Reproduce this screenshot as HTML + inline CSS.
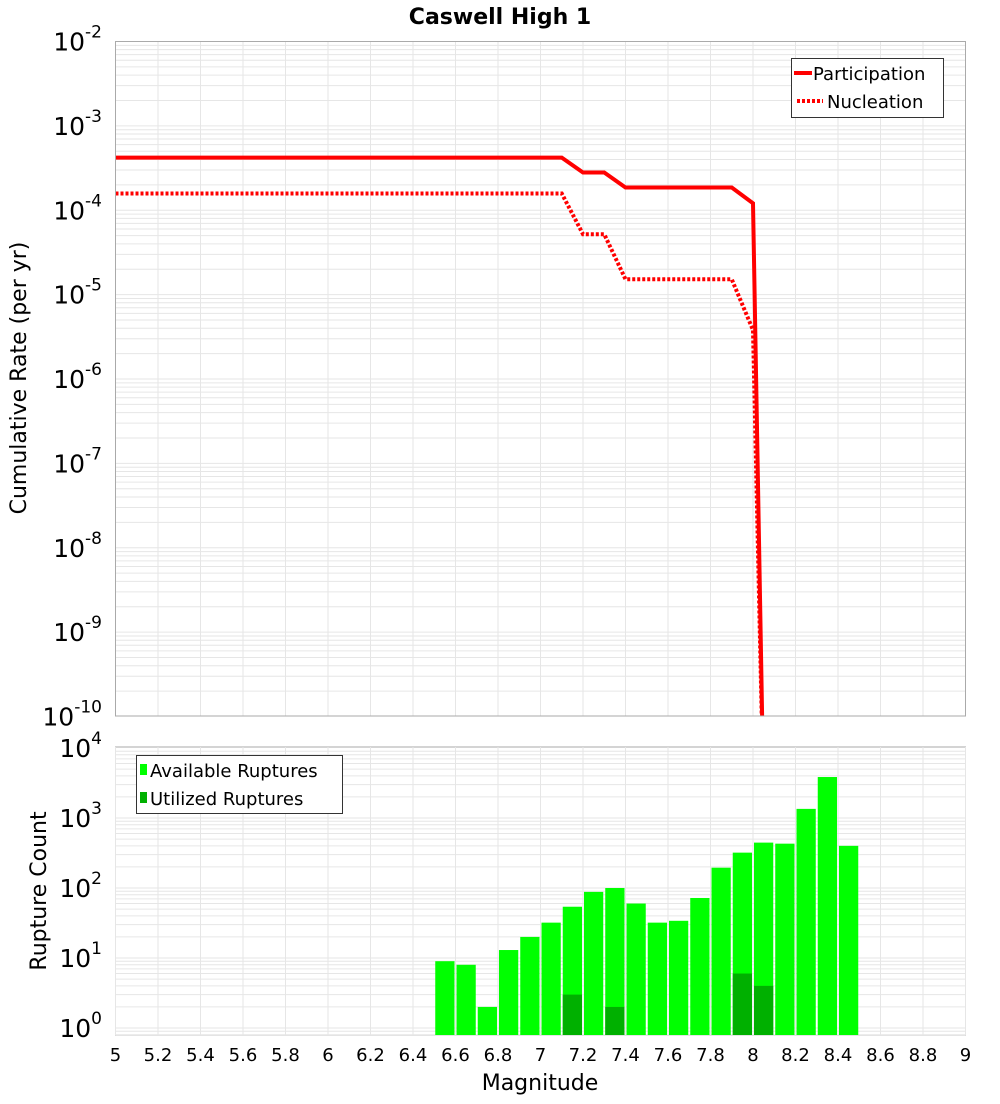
<!DOCTYPE html>
<html><head><meta charset="utf-8"><style>
body{margin:0;background:#fff;font-family:"DejaVu Sans","Liberation Sans",sans-serif;}
svg text{font-family:"DejaVu Sans","Liberation Sans",sans-serif;}
</style></head><body>
<svg id="c" width="1000" height="1100" xmlns="http://www.w3.org/2000/svg">
<text x="500" y="24" text-anchor="middle" font-size="22" font-weight="bold">Caswell High 1</text>
<g id="topg"></g>
<g id="botg"></g>
<text transform="translate(26,378) rotate(-90)" text-anchor="middle" font-size="22">Cumulative Rate (per yr)</text>
<text transform="translate(46,891) rotate(-90)" text-anchor="middle" font-size="22">Rupture Count</text>
<text x="540" y="1090" text-anchor="middle" font-size="22">Magnitude</text>
<g>
<rect x="791.5" y="58.5" width="152" height="59" fill="#fff" stroke="#333"/>
<line x1="794" y1="73" x2="812" y2="73" stroke="#f00" stroke-width="4"/>
<text x="813" y="80" font-size="18">Participation</text>
<line x1="797" y1="101" x2="823" y2="101" stroke="#f00" stroke-width="4" stroke-dasharray="3,2"/>
<text x="827" y="108" font-size="18">Nucleation</text>
</g>
<g>
<rect x="136.5" y="755.5" width="206" height="58" fill="#fff" stroke="#333"/>
<rect x="140" y="764" width="7" height="11" fill="#00ff00"/>
<text x="150" y="777" font-size="18">Available Ruptures</text>
<rect x="140" y="792" width="7" height="11" fill="#00b000"/>
<text x="150" y="805" font-size="18">Utilized Ruptures</text>
</g>
</svg>
<script>
const partMag=[5.0,7.1,7.2,7.3,7.4,7.9,8.0,8.05];
const partRate=[4.2e-4,4.2e-4,2.8e-4,2.8e-4,1.86e-4,1.86e-4,1.21e-4,1e-11];
const nuclMag=[5.0,7.1,7.2,7.3,7.4,7.9,8.0,8.05];
const nuclRate=[1.58e-4,1.58e-4,5.2e-5,5.2e-5,1.52e-5,1.52e-5,3.8e-6,1e-11];
const binMag=[6.55,6.65,6.75,6.85,6.95,7.05,7.15,7.25,7.35,7.45,7.55,7.65,7.75,7.85,7.95,8.05,8.15,8.25,8.35,8.45];
const availCount=[9,8,2,13,20,32,54,88,100,60,32,34,72,195,320,445,430,1350,3850,400];
const utilCount=[0,0,0,0,0,0,3,0,2,0,0,0,0,0,6,4,0,0,0,0];
const xTicks=[5,5.2,5.4,5.6,5.8,6,6.2,6.4,6.6,6.8,7,7.2,7.4,7.6,7.8,8,8.2,8.4,8.6,8.8,9];
const topExp=[-2,-3,-4,-5,-6,-7,-8,-9,-10];
const botExp=[4,3,2,1,0];
const NS="http://www.w3.org/2000/svg";
const L=115.5,R=965.5;
const X=m=>L+(m-5)*(R-L)/4;
const YT=v=>41.5+(-2-Math.log10(v))*84.375;
const YB=v=>1028-70*Math.log10(v);
function mk(p,t,a){const e=document.createElementNS(NS,t);for(const k in a)e.setAttribute(k,a[k]);p.appendChild(e);return e;}
const gTop=document.getElementById('topg'),gBot=document.getElementById('botg');
function grid(g,y0,y1,Y,emin,emax){
  for(let e=emin;e<emax;e++)for(let k=1;k<10;k++){const y=Y(k*Math.pow(10,e));if(y<y0||y>y1)continue;
    const l=mk(g,'line',{x1:L,x2:R,y1:y,y2:y,stroke:'#e6e6e6','stroke-width':1});
    
    }
  xTicks.forEach(t=>{const l=mk(g,'line',{x1:X(t),x2:X(t),y1:y0,y2:y1,stroke:'#e6e6e6'});
    
    });
}
grid(gTop,41.5,716,YT,-10,-2);
grid(gBot,747,1035,YB,-1,4);
function expLabel(p,y,e){const t=mk(p,'text',{x:102,y:y+9,'text-anchor':'end','font-size':25});
  
  
  t.textContent='10';const s=mk(t,'tspan',{dy:-13,'font-size':17});s.textContent=String(e);}
topExp.forEach(e=>expLabel(gTop,YT(Math.pow(10,e)),e));
botExp.forEach(e=>expLabel(gBot,YB(Math.pow(10,e)),e));
function drawLine(mags,rates,dash,name){
  const pts=mags.map((m,i)=>X(m)+','+YT(rates[i])).join(' ');
  const cp=mk(gTop,'clipPath',{id:'cl'+name});mk(cp,'rect',{x:L,y:41.5,width:R-L,height:675});
  const pl=mk(gTop,'polyline',{points:pts,fill:'none',stroke:'#f00','stroke-width':4,'clip-path':'url(#cl'+name+')'});
  if(dash)pl.setAttribute('stroke-dasharray','3,2');
  
  
}
drawLine(nuclMag,nuclRate,true,'nucleation-line');
drawLine(partMag,partRate,false,'participation-line');
const bw=(R-L)/40;
binMag.forEach((m,i)=>{
  const x=X(m)-bw/2+1;
  const y=YB(availCount[i]);
  const r=mk(gBot,'rect',{x:x,y:y,width:bw-2,height:1035-y,fill:'#00ff00'});
  
  
  if(utilCount[i]>0){const yu=YB(utilCount[i]);
    const u=mk(gBot,'rect',{x:x,y:yu,width:bw-2,height:1035-yu,fill:'#00b000'});
    
    }
});
xTicks.forEach(t=>{const tx=mk(gBot,'text',{x:X(t),y:1061,'text-anchor':'middle','font-size':18});
  
  
  tx.textContent=String(t);});
[[41.5,716],[747,1035]].forEach(([a,b])=>{const f=mk(gTop,'rect',{x:L,y:a,width:R-L,height:b-a,fill:'none',stroke:'#aaa'});
  
  });
</script>
</body></html>
